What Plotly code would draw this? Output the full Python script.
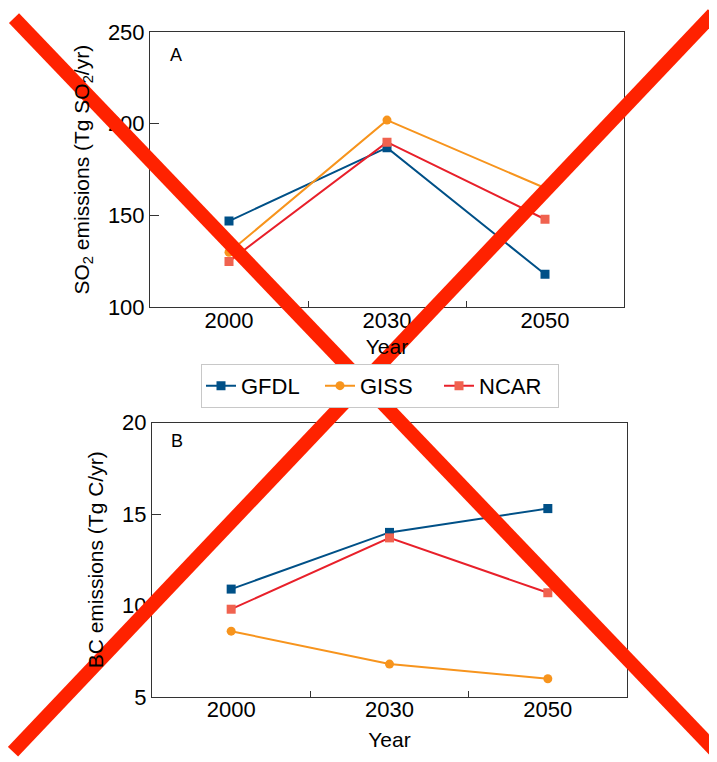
import plotly.graph_objects as go

years = ["2000", "2030", "2050"]
so2_gfdl = [147, 187, 118]
so2_giss = [130, 202, 165]
so2_ncar = [125, 190, 148]
bc_gfdl = [10.9, 14.0, 15.3]
bc_giss = [8.6, 6.8, 6.0]
bc_ncar = [9.8, 13.7, 10.7]

OFF = 8  # page body margin
W, H = 717 - OFF, 762 - OFF
ML, MR, MT, MB = 150 - OFF, 717 - 627, 28 - OFF, 762 - 697
PW, PH = W - ML - MR, H - MT - MB

def px(x):
    return (x - OFF - ML) / PW

def py(y):
    return (H - MB - (y - OFF)) / PH

C_GFDL = "#005087"
C_GISS = "#f7941d"
C_NCAR_L = "#e8202a"
C_NCAR_M = "#f0624f"

series = [
    ("GFDL", so2_gfdl, bc_gfdl, C_GFDL, C_GFDL, "square"),
    ("GISS", so2_giss, bc_giss, C_GISS, C_GISS, "circle"),
    ("NCAR", so2_ncar, bc_ncar, C_NCAR_L, C_NCAR_M, "square"),
]

fig = go.Figure()
for name, a, b, lc, mc, sym in series:
    fig.add_trace(go.Scatter(x=years, y=a, name=name, mode="lines+markers",
                             line=dict(color=lc, width=2),
                             marker=dict(color=mc, symbol=sym, size=9),
                             xaxis="x", yaxis="y", legendgroup=name))
    fig.add_trace(go.Scatter(x=years, y=b, name=name, mode="lines+markers",
                             line=dict(color=lc, width=2),
                             marker=dict(color=mc, symbol=sym, size=9),
                             xaxis="x2", yaxis="y2", legendgroup=name, showlegend=False))

FAM = "Liberation Sans, Arial, sans-serif"
tfont = dict(family=FAM, size=22, color="#000")
font = dict(family=FAM, size=21, color="#000")
lfont = dict(family=FAM, size=22, color="#000")
axcommon = dict(showline=True, linecolor="#333", linewidth=1, mirror=True,
                showgrid=False, zeroline=False, ticks="inside", tickcolor="#333",
                tickfont=tfont)
xcommon = dict(axcommon, type="category", range=[-0.5, 2.5], tickson="boundaries",
               ticklen=6, ticklabelstandoff=-7)

fig.update_layout(
    width=W, height=H,
    margin=dict(l=ML, r=MR, t=MT, b=MB),
    plot_bgcolor="white", paper_bgcolor="white",
    font=font,
    xaxis=dict(xcommon, domain=[0, 474 / PW], anchor="y",
               title=dict(text="Year", font=font, standoff=7)),
    yaxis=dict(axcommon, domain=[py(305), 1], anchor="x", range=[100, 250],
               dtick=50, ticklen=9,
               title=dict(text="SO<sub>2</sub> emissions (Tg SO<sub>2</sub>/yr)", font=font, standoff=12)),
    xaxis2=dict(xcommon, domain=[2 / PW, 1], anchor="y2",
                title=dict(text="Year", font=font, standoff=10)),
    yaxis2=dict(axcommon, domain=[0, py(421)], anchor="x2", range=[5, 20],
                dtick=5, ticklen=9,
                title=dict(text="BC emissions (Tg C/yr)", font=font, standoff=12)),
    legend=dict(orientation="h", x=px(380), y=py(384), xanchor="center", yanchor="middle",
                bordercolor="#c8c8c8", borderwidth=1, font=lfont, bgcolor="white",
                itemwidth=30, tracegroupgap=0, entrywidth=74, entrywidthmode="pixels"),
    annotations=[
        dict(text="A", xref="x domain", yref="y domain", x=(176 - 150) / 474, y=(305 - 51) / 277,
             xanchor="center", yanchor="middle",
             showarrow=False, font=dict(family=FAM, size=18, color="#000")),
        dict(text="B", xref="x2 domain", yref="y2 domain", x=(177 - 152) / 475, y=(697 - 439) / 276,
             xanchor="center", yanchor="middle",
             showarrow=False, font=dict(family=FAM, size=18, color="#000")),
    ],
    shapes=[
        dict(type="line", xref="paper", yref="paper", x0=px(14), y0=py(14), x1=px(717), y1=py(753),
             line=dict(color="#ff2200", width=14)),
        dict(type="line", xref="paper", yref="paper", x0=px(713), y0=py(10), x1=px(13), y1=py(752),
             line=dict(color="#ff2200", width=14)),
    ],
)

fig.write_html("out.html")
